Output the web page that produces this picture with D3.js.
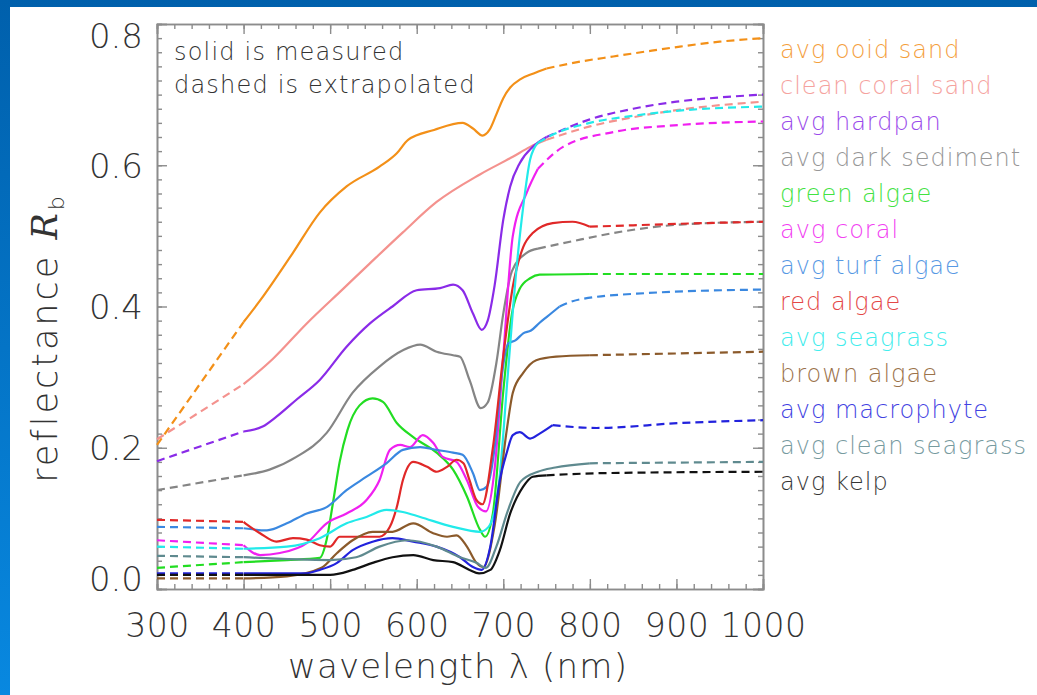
<!DOCTYPE html>
<html>
<head>
<meta charset="utf-8">
<script src="https://cdn.jsdelivr.net/npm/d3@7"></script>
<style>
    html, body { margin: 0; padding: 0; background: #fff; overflow: hidden; }
    svg { display: block; }
</style>
</head>
<body>
<svg id="reflectance-spectra"></svg>
<script>
// legend order = drawing order
const seriesNames = [
    "avg ooid sand", "clean coral sand", "avg hardpan", "avg dark sediment",
    "green algae", "avg coral", "avg turf algae", "red algae", "avg seagrass",
    "brown algae", "avg macrophyte", "avg clean seagrass", "avg kelp"
];
const seriesColors = [
    "#f39018", "#f4928e", "#8a2be8", "#858585",
    "#22dd22", "#f020f0", "#3a88e0", "#e02828", "#22eaea",
    "#8b5a2b", "#2222dd", "#5f8a8f", "#111111"
];
// wavelength range (nm) that is measured, the rest is extrapolated
const measuredRanges = [
    [400, 750], [400, 750], [400, 750], [400, 740],
    [400, 800], [400, 740], [400, 765], [400, 800], [400, 740],
    [400, 800], [400, 757], [400, 800], [400, 750]
];

// [wavelength nm, reflectance]
const ooidSand = [[300,0.204],[400,0.378],[420,0.41],[457,0.476],[488,0.533],[519,0.57],[557,0.598],[577,0.617],[590,0.636],[620,0.65],[653,0.66],[665,0.652],[676,0.642],[684,0.65],[692,0.672],[700,0.695],[708,0.71],[720,0.722],[735,0.73],[750,0.737],[790,0.747],[827,0.754],[870,0.762],[904,0.768],[950,0.775],[1000,0.78]];
const cleanCoralSand = [[300,0.212],[400,0.29],[434,0.326],[473,0.376],[515,0.425],[545,0.46],[584,0.505],[623,0.548],[673,0.587],[711,0.612],[731,0.626],[750,0.636],[800,0.655],[850,0.668],[900,0.678],[950,0.685],[1000,0.69]];
const avgHardpan = [[300,0.181],[400,0.223],[422,0.23],[438,0.244],[461,0.268],[488,0.296],[519,0.343],[546,0.376],[572,0.4],[600,0.423],[627,0.426],[642,0.431],[653,0.423],[665,0.39],[675,0.367],[682,0.38],[690,0.43],[700,0.523],[708,0.57],[719,0.603],[734,0.626],[750,0.64],[800,0.665],[850,0.68],[900,0.69],[950,0.696],[1000,0.70]];
const avgDarkSediment = [[300,0.14],[400,0.161],[430,0.169],[461,0.187],[496,0.221],[526,0.278],[557,0.315],[584,0.338],[604,0.346],[623,0.336],[642,0.331],[650,0.329],[661,0.296],[674,0.256],[682,0.264],[692,0.32],[700,0.39],[710,0.45],[727,0.476],[740,0.482],[790,0.495],[827,0.504],[904,0.516],[1000,0.52]];
const greenAlgae = [[300,0.03],[400,0.038],[450,0.041],[488,0.044],[496,0.07],[503,0.12],[511,0.18],[520,0.225],[534,0.26],[549,0.27],[561,0.265],[577,0.235],[596,0.215],[623,0.193],[642,0.169],[658,0.131],[673,0.084],[679,0.074],[688,0.107],[700,0.28],[710,0.39],[719,0.425],[731,0.44],[742,0.445],[800,0.446],[1000,0.446]];
const avgCoral = [[300,0.069],[400,0.062],[419,0.048],[442,0.051],[473,0.065],[496,0.093],[519,0.107],[542,0.126],[557,0.154],[569,0.197],[581,0.204],[592,0.201],[607,0.218],[619,0.207],[630,0.187],[646,0.18],[658,0.154],[671,0.116],[680,0.11],[690,0.17],[700,0.33],[711,0.5],[727,0.561],[740,0.595],[769,0.626],[827,0.647],[904,0.657],[1000,0.662]];
const avgTurfAlgae = [[300,0.088],[400,0.086],[427,0.083],[450,0.093],[473,0.107],[496,0.116],[519,0.14],[542,0.159],[565,0.178],[584,0.197],[604,0.201],[623,0.197],[642,0.193],[653,0.19],[665,0.164],[673,0.14],[681,0.145],[690,0.2],[698,0.3],[706,0.348],[714,0.352],[723,0.362],[732,0.366],[742,0.377],[750,0.385],[765,0.4],[788,0.41],[866,0.419],[1000,0.424]];
const redAlgae = [[300,0.098],[400,0.095],[404,0.091],[419,0.079],[438,0.067],[457,0.072],[473,0.07],[488,0.062],[500,0.06],[511,0.074],[540,0.074],[557,0.074],[569,0.088],[577,0.116],[584,0.154],[596,0.18],[612,0.173],[623,0.166],[635,0.173],[646,0.183],[654,0.178],[661,0.154],[669,0.126],[676,0.12],[688,0.2],[700,0.33],[711,0.428],[723,0.484],[734,0.504],[757,0.518],[780,0.52],[800,0.513],[850,0.515],[900,0.517],[1000,0.52]];
const avgSeagrass = [[300,0.06],[400,0.057],[450,0.06],[488,0.072],[519,0.093],[542,0.102],[565,0.112],[584,0.109],[604,0.102],[642,0.088],[673,0.081],[683,0.088],[695,0.15],[705,0.3],[715,0.45],[723,0.541],[731,0.608],[740,0.632],[760,0.645],[800,0.66],[850,0.67],[900,0.677],[1000,0.683]];
const brownAlgae = [[300,0.015],[400,0.015],[450,0.018],[490,0.03],[508,0.051],[526,0.069],[549,0.081],[572,0.081],[596,0.093],[619,0.079],[635,0.074],[646,0.076],[658,0.06],[669,0.037],[677,0.031],[690,0.09],[704,0.225],[711,0.278],[723,0.306],[738,0.324],[761,0.329],[800,0.331],[1000,0.336]];
const avgMacrophyte = [[300,0.022],[400,0.022],[470,0.022],[488,0.027],[508,0.037],[526,0.055],[549,0.067],[572,0.072],[596,0.067],[623,0.06],[650,0.045],[665,0.031],[675,0.027],[685,0.06],[696,0.154],[704,0.193],[711,0.218],[719,0.222],[731,0.213],[742,0.22],[757,0.232],[808,0.228],[904,0.235],[1000,0.239]];
const avgCleanSeagrass = [[300,0.047],[400,0.045],[500,0.041],[530,0.045],[557,0.06],[589,0.069],[623,0.06],[650,0.045],[669,0.037],[680,0.03],[692,0.06],[705,0.11],[720,0.152],[740,0.166],[760,0.172],[800,0.178],[1000,0.18]];
const avgKelp = [[300,0.02],[400,0.02],[500,0.02],[526,0.027],[549,0.037],[572,0.045],[596,0.048],[619,0.041],[642,0.038],[661,0.027],[672,0.022],[685,0.027],[696,0.055],[708,0.107],[723,0.145],[734,0.159],[750,0.161],[812,0.164],[1000,0.166]];

const seriesValues = [
    ooidSand, cleanCoralSand, avgHardpan, avgDarkSediment,
    greenAlgae, avgCoral, avgTurfAlgae, redAlgae, avgSeagrass,
    brownAlgae, avgMacrophyte, avgCleanSeagrass, avgKelp
];

const xTickValues = [300, 400, 500, 600, 700, 800, 900, 1000];
const xTickLabels = ["300", "400", "500", "600", "700", "800", "900", "1000"];
const yTickValues = [0, 0.2, 0.4, 0.6, 0.8];
const yTickLabels = ["0.0", "0.2", "0.4", "0.6", "0.8"];
const noteLines = ["solid is measured", "dashed is extrapolated"];

const FONT = "'DejaVu Sans', sans-serif";

function makeReflectanceChart() {
    const width = 1037, height = 695;
    const svg = d3.select("#reflectance-spectra").attr("width", width).attr("height", height);

    // blue slide frame
    const grad = svg.append("defs").append("linearGradient")
        .attr("id", "frameGrad").attr("x1", 0).attr("y1", 0).attr("x2", 0).attr("y2", 1);
    grad.append("stop").attr("offset", "0%").attr("stop-color", "#0060ac");
    grad.append("stop").attr("offset", "100%").attr("stop-color", "#0888e0");
    svg.append("rect").attr("width", width).attr("height", height).attr("fill", "url(#frameGrad)");
    svg.append("rect").attr("x", 10).attr("y", 7).attr("width", width - 10).attr("height", height - 7).attr("fill", "#fff");

    const x = d3.scaleLinear().domain([300, 1000]).range([157, 763]);
    const y = d3.scaleLinear().domain([0, 0.8]).range([589, 24]);

    const axisColor = "#8c8c8c";
    const xMinor = d3.range(300, 1001, 20);
    const yMinor = d3.range(0, 0.801, 0.02);

    const drawAxis = (axis, transform) => {
        const g = svg.append("g").attr("transform", transform).call(axis);
        g.selectAll("path, line").attr("stroke", axisColor).attr("stroke-width", 1.4);
        return g;
    };

    // minor ticks, then major ticks, all pointing inward
    drawAxis(d3.axisBottom(x).tickValues(xMinor).tickSize(-5).tickFormat(""), `translate(0,${y(0)})`);
    drawAxis(d3.axisTop(x).tickValues(xMinor).tickSize(-5).tickFormat(""), `translate(0,${y(0.8)})`);
    drawAxis(d3.axisLeft(y).tickValues(yMinor).tickSize(-5).tickFormat(""), `translate(${x(300)},0)`);
    drawAxis(d3.axisRight(y).tickValues(yMinor).tickSize(-5).tickFormat(""), `translate(${x(1000)},0)`);

    const bottom = drawAxis(d3.axisBottom(x).tickValues(xTickValues).tickSize(-10)
        .tickFormat((d, i) => xTickLabels[i]), `translate(0,${y(0)})`);
    bottom.selectAll("text")
        .attr("y", 48).attr("dy", null)
        .attr("font-family", FONT).attr("font-size", 33).attr("font-weight", 200)
        .attr("letter-spacing", 0.5)
        .attr("fill", "#333");
    drawAxis(d3.axisTop(x).tickValues(xTickValues).tickSize(-10).tickFormat(""), `translate(0,${y(0.8)})`);

    const left = drawAxis(d3.axisLeft(y).tickValues(yTickValues).tickSize(-10)
        .tickFormat((d, i) => yTickLabels[i]), `translate(${x(300)},0)`);
    left.selectAll("text")
        .attr("x", -14).attr("dy", null)
        .attr("y", d => Math.min(Math.max(y(d), 35), 578) - y(d) + 12)
        .attr("font-family", FONT).attr("font-size", 34).attr("font-weight", 200)
        .attr("fill", "#333");
    drawAxis(d3.axisRight(y).tickValues(yTickValues).tickSize(-10).tickFormat(""), `translate(${x(1000)},0)`);

    svg.selectAll(".domain").attr("stroke-width", 1.6);

    // spectra: dashed where extrapolated, solid where measured
    const line = d3.line().x(d => x(d[0])).y(d => y(d[1])).curve(d3.curveMonotoneX);
    const plot = svg.append("g");
    seriesValues.forEach((pts, i) => {
        const [m0, m1] = measuredRanges[i];
        const parts = [
            { data: pts.filter(d => d[0] <= m0), dash: "8,5" },
            { data: pts.filter(d => d[0] >= m0 && d[0] <= m1), dash: null },
            { data: pts.filter(d => d[0] >= m1), dash: "8,5" }
        ];
        parts.forEach(p => {
            if (p.data.length < 2) return;
            plot.append("path")
                .attr("d", line(p.data))
                .attr("fill", "none")
                .attr("stroke", seriesColors[i])
                .attr("stroke-width", 2.2)
                .attr("stroke-dasharray", p.dash);
        });
    });

    // note top-left
    svg.append("g").selectAll("text").data(noteLines).join("text")
        .attr("x", 174).attr("y", (d, i) => 60 + i * 33)
        .attr("font-family", FONT).attr("font-size", 24).attr("font-weight", 200)
        .attr("letter-spacing", 1.2)
        .attr("fill", "#333").text(d => d);

    // legend to the right
    svg.append("g").selectAll("text").data(seriesNames).join("text")
        .attr("x", 780).attr("y", (d, i) => 58 + i * 36)
        .attr("font-family", FONT).attr("font-size", 24).attr("font-weight", 200)
        .attr("letter-spacing", 1)
        .attr("fill", (d, i) => seriesColors[i]).attr("opacity", 0.85)
        .text(d => d);

    // axis titles
    svg.append("text")
        .attr("x", 458).attr("y", 678).attr("text-anchor", "middle")
        .attr("font-family", FONT).attr("font-size", 34).attr("font-weight", 200)
        .attr("letter-spacing", 1.2)
        .attr("fill", "#333")
        .text("wavelength λ (nm)");

    const yTitle = svg.append("text")
        .attr("transform", "translate(57,338) rotate(-90)")
        .attr("text-anchor", "middle")
        .attr("font-family", FONT).attr("font-size", 35).attr("font-weight", 200)
        .attr("letter-spacing", 3)
        .attr("fill", "#333");
    yTitle.append("tspan").text("reflectance ");
    yTitle.append("tspan").attr("font-family", "'DejaVu Serif', serif").attr("font-style", "italic")
        .attr("font-weight", 400).text("R");
    yTitle.append("tspan").attr("font-size", 22).attr("dy", 7).text("b");
}

makeReflectanceChart();
</script>
</body>
</html>
